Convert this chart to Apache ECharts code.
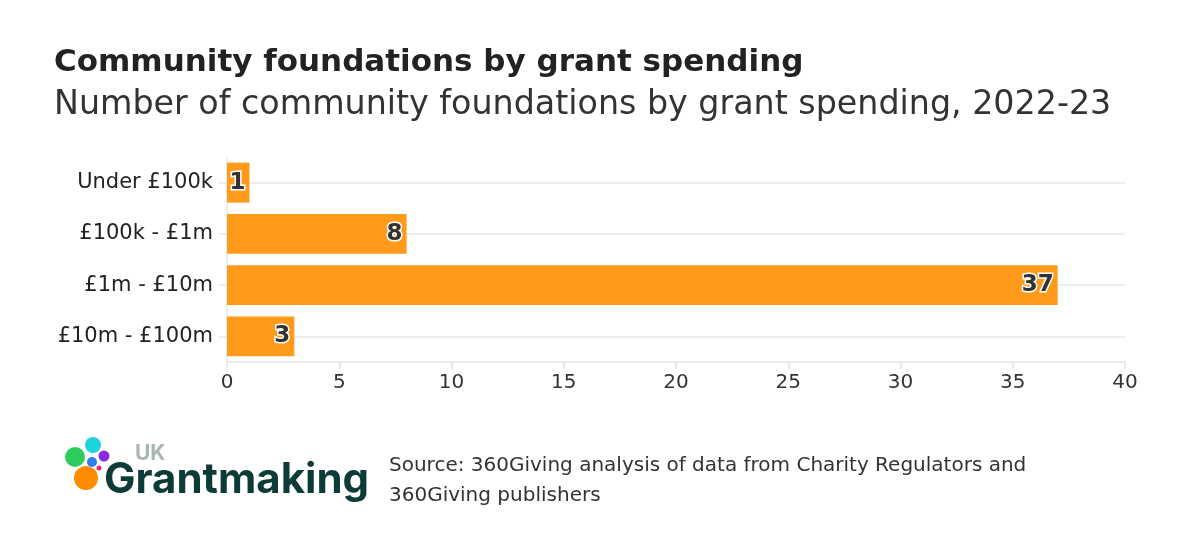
<!DOCTYPE html>
<html>
<head>
<meta charset="utf-8">
<script src="https://cdn.jsdelivr.net/npm/echarts@6/dist/echarts.min.js"></script>
<style>
html,body{margin:0;padding:0;background:#fff;}
#chart{width:1187px;height:546px;}
</style>
</head>
<body>
<div id="chart"></div>
<script>
// data
var categories = ['Under £100k', '£100k - £1m', '£1m - £10m', '£10m - £100m'];
var counts = [1, 8, 37, 3];
var xTicks = [0, 5, 10, 15, 20, 25, 30, 35, 40];

var FONT = '"DejaVu Sans", sans-serif';
var LOGO_FONT = 'Inter, "Noto Sans", sans-serif';
var chart = echarts.init(document.getElementById('chart'));

var option = {
	backgroundColor: '#fff',
	animation: false,
	title: [{
		text: 'Community foundations by grant spending',
		left: 49, top: 42,
		textStyle: {fontFamily: FONT, fontSize: 31, fontWeight: 'bold', color: '#222'}
	}, {
		text: 'Number of community foundations by grant spending, 2022-23',
		left: 49, top: 84,
		textStyle: {fontFamily: FONT, fontSize: 33.3, fontWeight: 'normal', color: '#333'}
	}],
	grid: {left: 227, right: 62, top: 157, bottom: 184, containLabel: false},
	xAxis: {
		type: 'value',
		min: xTicks[0], max: xTicks[xTicks.length - 1], interval: 5,
		axisLine: {show: true, lineStyle: {color: '#e3e3e3', width: 1.5}},
		axisTick: {show: true, length: 7, lineStyle: {color: '#e3e3e3', width: 1.5}},
		axisLabel: {fontFamily: FONT, fontSize: 20, color: '#333', margin: 11},
		splitLine: {show: false}
	},
	yAxis: {
		type: 'category',
		inverse: true,
		data: categories,
		axisLine: {show: true, lineStyle: {color: '#e8e8e8', width: 1.5}},
		axisTick: {show: true, alignWithLabel: true, length: 8, lineStyle: {color: '#e8e8e8', width: 1.5}},
		axisLabel: {fontFamily: FONT, fontSize: 21, color: '#222', margin: 14},
		splitLine: {show: true, alignWithLabel: true, lineStyle: {color: '#e8e8e8', width: 1.5}}
	},
	series: [{
		type: 'bar',
		data: counts,
		barWidth: '78%',
		itemStyle: {color: '#ff9a1a'},
		label: {
			show: true,
			position: 'insideRight',
			distance: 4,
			fontFamily: FONT,
			fontSize: 23,
			fontWeight: 'bold',
			color: '#333',
			textBorderColor: '#fff',
			textBorderWidth: 3
		}
	}],
	graphic: [
		// logo
		{type: 'circle', shape: {cx: 75, cy: 457, r: 10}, style: {fill: '#2ecc5b'}},
		{type: 'circle', shape: {cx: 93, cy: 445, r: 8}, style: {fill: '#1dd3e0'}},
		{type: 'circle', shape: {cx: 92, cy: 462, r: 5}, style: {fill: '#2f7fe8'}},
		{type: 'circle', shape: {cx: 104, cy: 456, r: 5.5}, style: {fill: '#8a2be2'}},
		{type: 'circle', shape: {cx: 99, cy: 468, r: 2.5}, style: {fill: '#f0246e'}},
		{type: 'circle', shape: {cx: 86, cy: 478, r: 12}, style: {fill: '#ff8c00'}},
		{type: 'text', left: 135, top: 443, style: {text: 'UK', fontFamily: LOGO_FONT, fontSize: 21, fontWeight: 'bold', fill: '#a8b5b3'}},
		{type: 'text', left: 104, top: 459, style: {text: 'Grantmaking', fontFamily: LOGO_FONT, fontSize: 42, fontWeight: 'bold', fill: '#0d3b38'}},
		// source
		{type: 'text', left: 389, top: 451, style: {
			text: 'Source: 360Giving analysis of data from Charity Regulators and\n360Giving publishers',
			fontFamily: FONT, fontSize: 20, lineHeight: 30, fill: '#333'
		}}
	]
};
chart.setOption(option);
</script>
</body>
</html>
